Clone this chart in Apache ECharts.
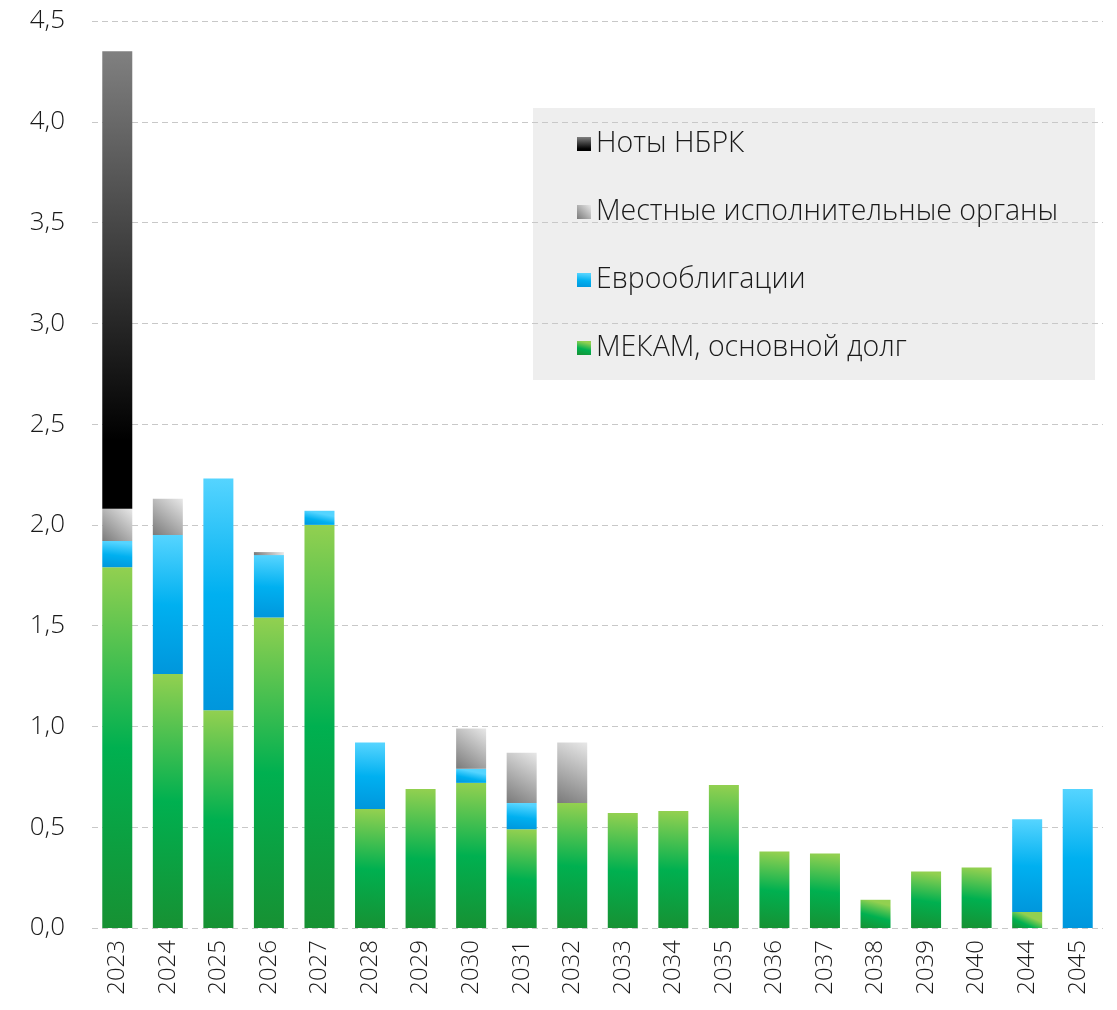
<!DOCTYPE html>
<html>
<head>
<meta charset="utf-8">
<script src="https://cdn.jsdelivr.net/npm/echarts@6/dist/echarts.min.js"></script>
<style>
html,body{margin:0;padding:0;background:#fff;}
#chart{width:1117px;height:1010px;}
</style>
</head>
<body>
<div id="chart"></div>
<script>
const categories = ['2023','2024','2025','2026','2027','2028','2029','2030','2031','2032','2033','2034','2035','2036','2037','2038','2039','2040','2044','2045'];
const mekam = [1.79, 1.26, 1.08, 1.54, 2.00, 0.59, 0.69, 0.72, 0.49, 0.62, 0.57, 0.58, 0.71, 0.38, 0.37, 0.14, 0.28, 0.30, 0.08, 0];
const euro  = [0.13, 0.69, 1.15, 0.31, 0.07, 0.33, 0, 0.07, 0.13, 0, 0, 0, 0, 0, 0, 0, 0, 0, 0.46, 0.69];
const local = [0.16, 0.18, 0, 0.015, 0, 0, 0, 0.20, 0.25, 0.30, 0, 0, 0, 0, 0, 0, 0, 0, 0, 0];
const notes = [2.27, 0, 0, 0, 0, 0, 0, 0, 0, 0, 0, 0, 0, 0, 0, 0, 0, 0, 0, 0];
const seriesNames = ['МЕКАМ, основной долг', 'Еврооблигации', 'Местные исполнительные органы', 'Ноты НБРК'];
const yTicks = {min: 0, max: 4.5, interval: 0.5};

const FONT = 'Open Sans';
const lg = (x, y, x2, y2, stops) => new echarts.graphic.LinearGradient(x, y, x2, y2, stops.map((c, i) => ({offset: c[0], color: c[1]})));

const greenGrad = lg(0.25, 0, 0, 1, [[0, '#92d050'], [0.5, '#00b050'], [1, '#179133']]);
const blueGrad = lg(0.1, 0, 0, 1, [[0, '#55d4ff'], [0.5, '#00b0f0'], [1, '#0096dc']]);
const grayGrad = lg(1, 0, 0, 1, [[0, '#e8e8e8'], [1, '#7a7a7a']]);
const blackGrad = lg(0, 0, 0, 1, [[0, '#808080'], [0.85, '#000000'], [1, '#000000']]);

const chart = echarts.init(document.getElementById('chart'), null, {renderer: 'canvas'});
const mk = (name, data, color) => ({
  name, type: 'bar', stack: 'total', data, barWidth: 30,
  itemStyle: {color}, emphasis: {disabled: true}
});
chart.setOption({
  animation: false,
  textStyle: {fontFamily: FONT},
  graphic: [{
    type: 'rect', left: 533, top: 108, z: -10, silent: true,
    shape: {width: 562, height: 272}, style: {fill: '#eeeeee'}
  }],
  grid: {left: 92, right: 14, top: 21, bottom: 82},
  legend: {
    orient: 'vertical', left: 572, top: 124,
    data: [seriesNames[3], seriesNames[2], seriesNames[1], seriesNames[0]],
    itemWidth: 14, itemHeight: 14, itemGap: 38,
    icon: 'rect',
    textStyle: {fontFamily: FONT, fontWeight: 300, fontSize: 28.5, lineHeight: 30, color: '#1a1a1a', padding: [0, 0, 0, 0]},
    selectedMode: false
  },
  xAxis: {
    type: 'category', data: categories,
    axisLine: {show: false}, axisTick: {show: false},
    axisLabel: {rotate: 90, fontFamily: FONT, fontWeight: 300, fontSize: 24, color: '#1a1a1a', margin: 12}
  },
  yAxis: {
    type: 'value', min: yTicks.min, max: yTicks.max, interval: yTicks.interval,
    axisLine: {show: false}, axisTick: {show: false},
    axisLabel: {fontFamily: FONT, fontWeight: 300, fontSize: 26, color: '#1a1a1a', margin: 27,
      formatter: v => v.toFixed(1).replace('.', ',')},
    splitLine: {lineStyle: {color: '#c8c8c8', type: [6, 4], width: 1}}
  },
  series: [
    mk(seriesNames[0], mekam, greenGrad),
    mk(seriesNames[1], euro, blueGrad),
    mk(seriesNames[2], local, grayGrad),
    mk(seriesNames[3], notes, blackGrad)
  ]
});
</script>
</body>
</html>
